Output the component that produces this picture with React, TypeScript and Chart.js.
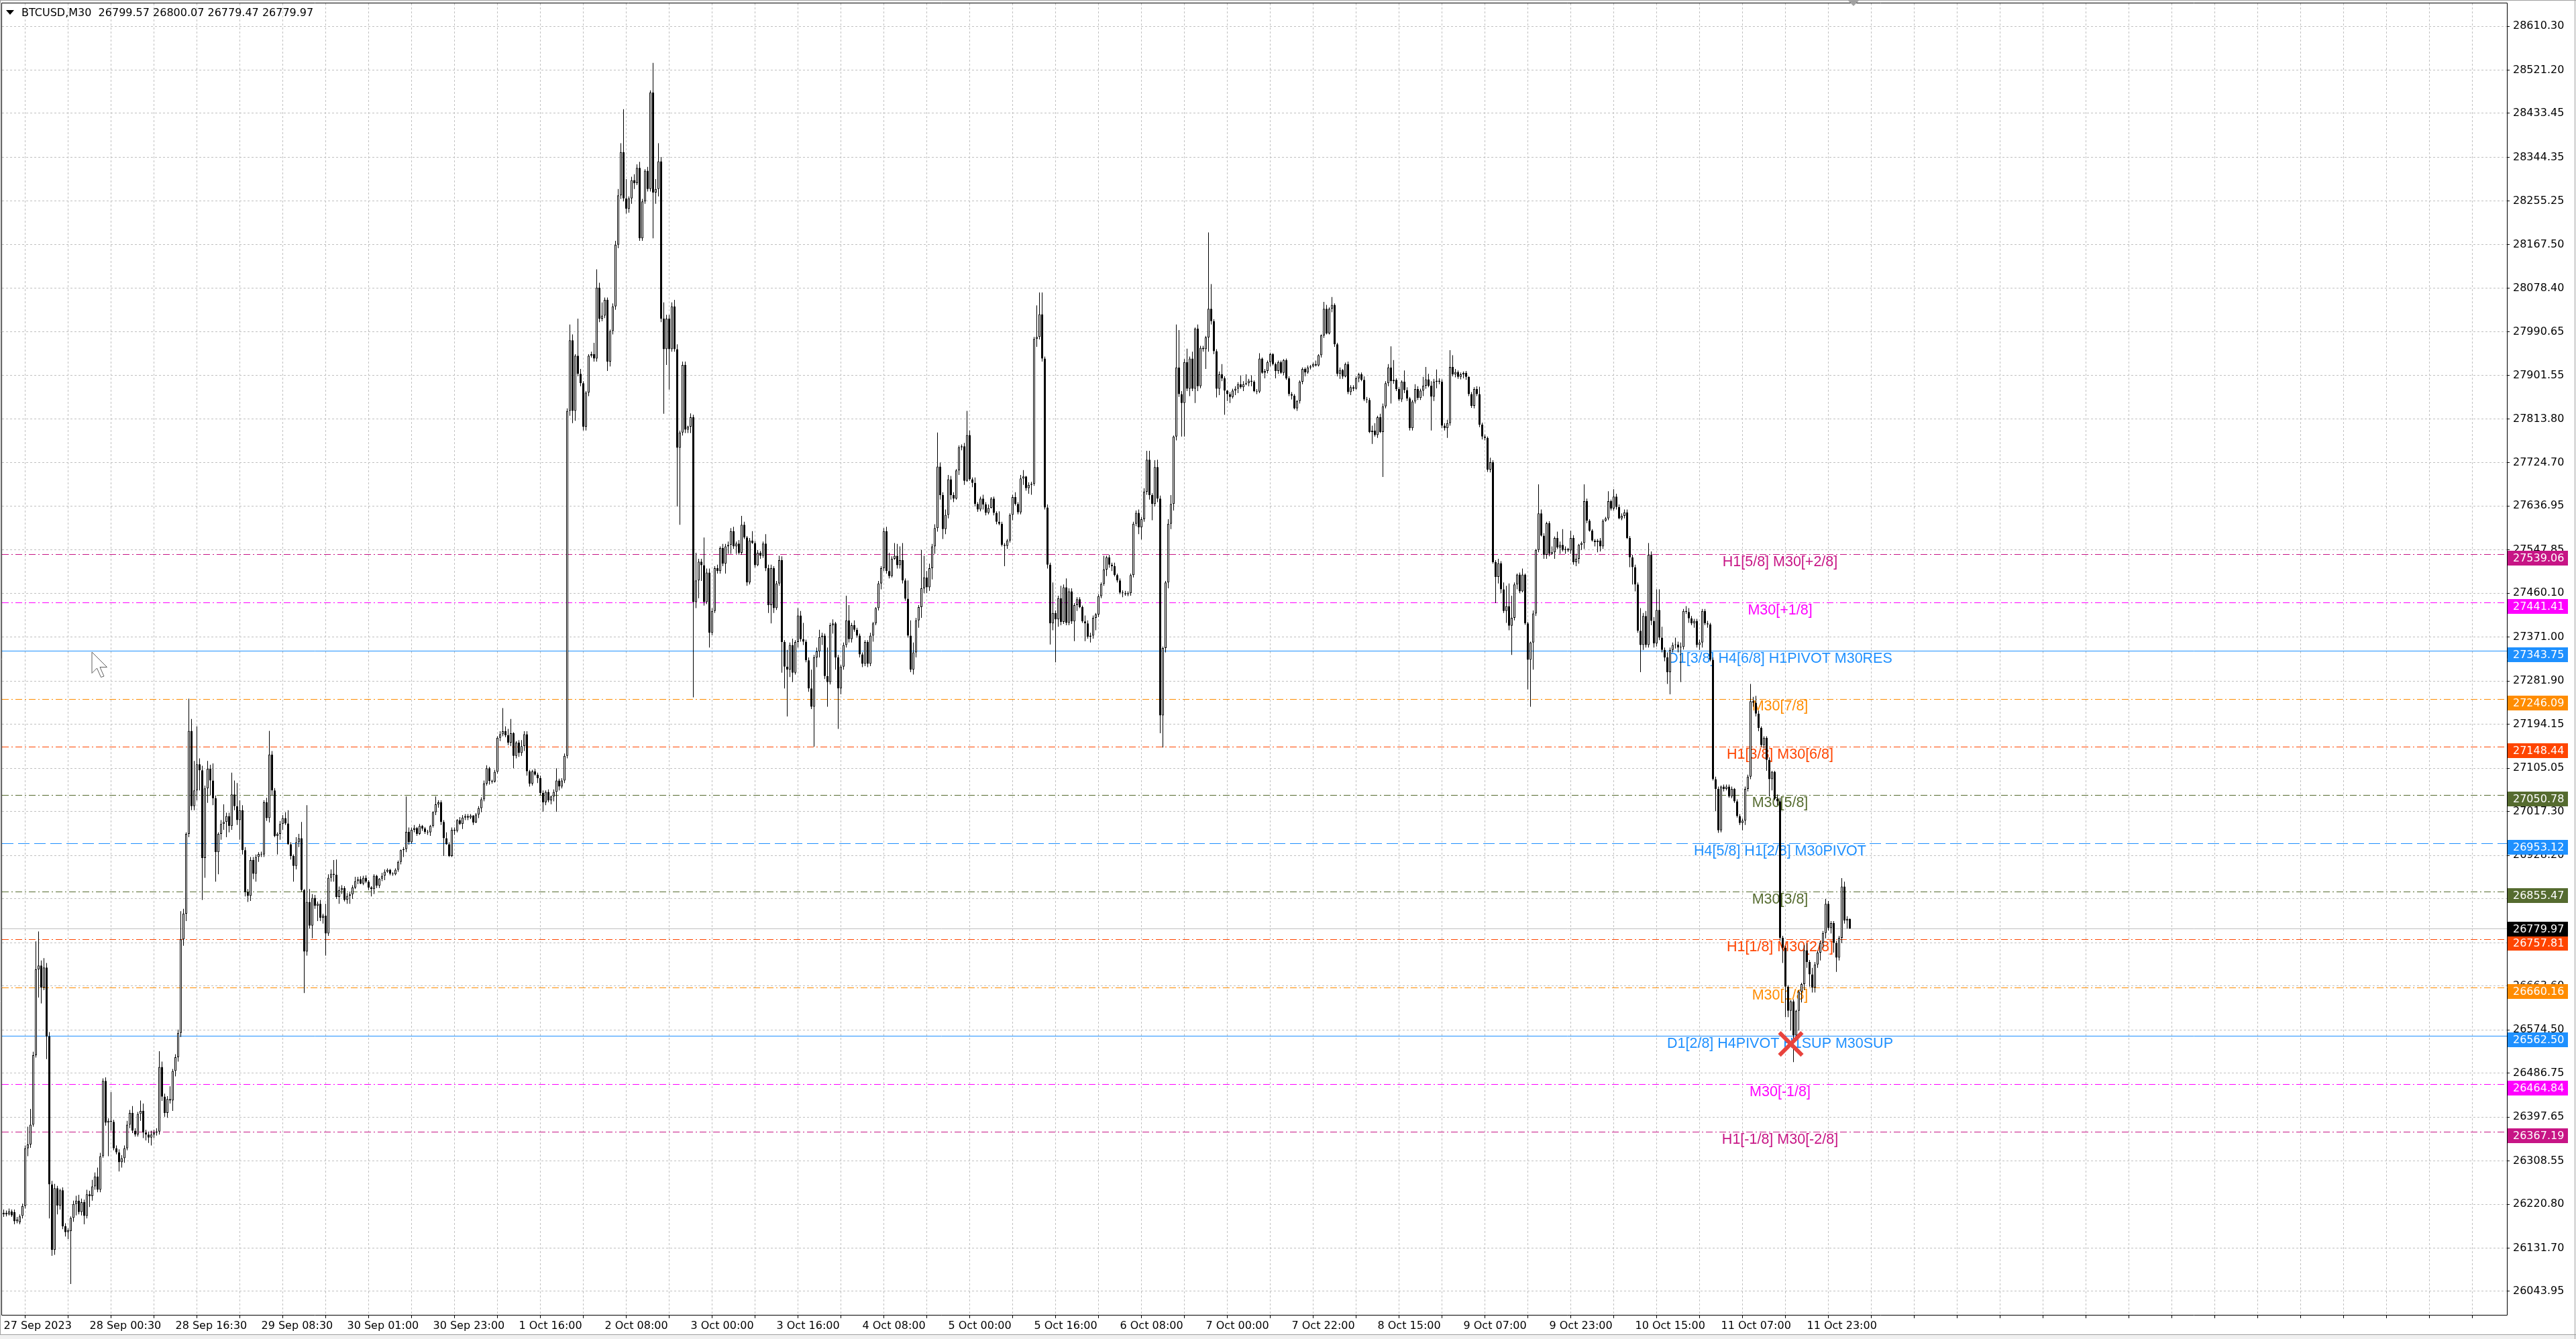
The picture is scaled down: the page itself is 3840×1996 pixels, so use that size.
import React, { useEffect, useRef } from "react";
import { Chart, registerables } from "chart.js";

Chart.register(...registerables);

// ---------------- DATA ----------------
const symbolName = "BTCUSD,M30";

// x-axis time labels, one every 32 bars (M30)
const timeLabels = [
  "27 Sep 2023", "28 Sep 00:30", "28 Sep 16:30", "29 Sep 08:30", "30 Sep 01:00", "30 Sep 23:00",
  "1 Oct 16:00", "2 Oct 08:00", "3 Oct 00:00", "3 Oct 16:00", "4 Oct 08:00", "5 Oct 00:00",
  "5 Oct 16:00", "6 Oct 08:00", "7 Oct 00:00", "7 Oct 22:00", "8 Oct 15:00", "9 Oct 07:00",
  "9 Oct 23:00", "10 Oct 15:00", "11 Oct 07:00", "11 Oct 23:00",
];

// right-axis price ticks
const priceTicks = [
  28610.30, 28521.20, 28433.45, 28344.35, 28255.25, 28167.50, 28078.40, 27990.65, 27901.55, 27813.80,
  27724.70, 27636.95, 27547.85, 27460.10, 27371.00, 27281.90, 27194.15, 27105.05, 27017.30, 26928.20,
  26840.45, 26751.35, 26663.60, 26574.50, 26486.75, 26397.65, 26308.55, 26220.80, 26131.70, 26043.95,
];

// Murrey-math style levels
const levelPrices = [
  27539.06, 27441.41, 27343.75, 27246.09, 27148.44, 27050.78, 26953.12,
  26855.47, 26757.81, 26660.16, 26562.50, 26464.84, 26367.19,
];
const levelNames = [
  "H1[5/8] M30[+2/8]", "M30[+1/8]", "D1[3/8] H4[6/8] H1PIVOT M30RES", "M30[7/8]",
  "H1[3/8] M30[6/8]", "M30[5/8]", "H4[5/8] H1[2/8] M30PIVOT", "M30[3/8]",
  "H1[1/8] M30[2/8]", "M30[1/8]", "D1[2/8] H4PIVOT H1SUP M30SUP", "M30[-1/8]", "H1[-1/8] M30[-2/8]",
];

// marker (red cross)
const markerBar = 666;
const markerPrice = 26546;
// bar index where the level captions are anchored
const captionBar = 662;

// OHLC candles [open, high, low, close]
const barsFrom27Sep = [
  [26200,26210,26195,26203],[26203,26208,26196,26200],[26200,26212,26198,26206],[26206,26210,26195,26198],[26205,26210,26180,26186],
  [26186,26195,26182,26190],[26184,26200,26180,26196],[26197,26222,26192,26217],[26217,26340,26212,26334],[26334,26378,26318,26342],
  [26342,26414,26335,26382],[26382,26530,26378,26523],[26523,26754,26518,26697],[26697,26774,26640,26705],[26705,26715,26628,26660],
  [26660,26720,26655,26701],[26701,26710,26515,26561],[26561,26570,26192,26261],[26261,26268,26116,26128],[26128,26262,26118,26253],
  [26253,26258,26200,26218],[26218,26252,26210,26249],[26249,26255,26170,26176],[26176,26182,26155,26164],[26164,26172,26150,26168],
  [26166,26196,26059,26193],[26193,26228,26185,26221],[26221,26238,26198,26228],[26228,26240,26200,26205],[26205,26232,26198,26225],
  [26225,26230,26180,26197],[26197,26250,26192,26241],[26241,26248,26215,26237],[26237,26270,26228,26257],[26257,26285,26250,26277],
  [26277,26295,26245,26250],[26250,26325,26245,26318],[26318,26476,26315,26471],[26471,26478,26380,26386],[26386,26395,26318,26390],
  [26390,26448,26370,26388],[26388,26392,26330,26334],[26334,26340,26322,26326],[26326,26332,26287,26306],[26306,26320,26295,26314],
  [26314,26340,26305,26334],[26334,26390,26330,26382],[26382,26412,26375,26406],[26406,26420,26365,26370],[26370,26375,26358,26362],
  [26362,26408,26358,26404],[26404,26431,26390,26410],[26410,26425,26355,26366],[26366,26372,26350,26362],[26362,26368,26345,26356],
  [26356,26370,26340,26362],[26362,26372,26355,26366],[26366,26375,26360,26368],[26368,26531,26362,26499],[26499,26510,26430,26439],
  [26439,26445,26398,26406],[26406,26440,26396,26434],[26434,26460,26425,26431],[26431,26495,26410,26491],[26491,26525,26480,26519],
  [26519,26575,26510,26568],[26568,26815,26560,26758],[26758,26820,26745,26810],[26810,26975,26795,26972],[26972,27246,26965,27181],
  [27181,27205,27020,27028],[27028,27120,27020,27060],[27060,27190,27040,27113],[27113,27125,27060,27101],[27101,27110,26838,26923],
  [26923,27070,26883,27064],[27064,27120,27035,27104],[27104,27112,27050,27080],[27080,27115,27030,27044],[27044,27050,26875,26935],
  [26935,26975,26890,26972],[26972,27000,26960,26992],[26992,27032,26980,26996],[26996,27015,26965,27008],[27008,27015,26975,26988],
  [26988,27096,26980,27052],[27052,27080,27020,27028],[27028,27075,26990,27000],[27000,27040,26960,27020],[27020,27030,26930,26939],
  [26939,26945,26845,26854],[26854,26860,26834,26846],[26846,26925,26836,26919],[26919,26925,26880,26891],[26891,26930,26875,26925],
  [26925,26935,26915,26931],[26931,26936,26925,26930],[26930,27040,26925,27036],[27036,27045,26998,27004],[27004,27181,26995,27133],
];
const barsFrom29Sep = [
  [27133,27140,27050,27060],[27060,27065,26965,26968],[26968,26975,26930,26972],[26972,26998,26960,26992],[26992,27010,26980,27004],
  [27004,27016,26990,26993],[26993,27020,26950,26951],[26951,26955,26920,26927],[26927,26930,26875,26907],[26907,26965,26900,26955],
  [26955,26972,26945,26963],[26963,26996,26855,26858],[26858,26860,26649,26733],[26733,27030,26725,26834],[26834,26860,26780,26786],
  [26786,26850,26760,26842],[26842,26848,26820,26826],[26826,26835,26795,26830],[26830,26838,26795,26802],[26802,26810,26790,26806],
  [26806,26830,26725,26770],[26770,26890,26765,26883],[26883,26900,26875,26891],[26891,26919,26875,26889],[26889,26920,26840,26844],
  [26844,26865,26830,26858],[26858,26868,26850,26862],[26862,26866,26835,26838],[26838,26852,26830,26846],[26846,26855,26830,26849],
  [26849,26868,26840,26863],[26863,26885,26860,26876],[26876,26885,26870,26880],[26880,26886,26870,26871],[26871,26887,26868,26883],
  [26883,26888,26872,26875],[26875,26878,26858,26863],[26863,26866,26845,26860],[26860,26890,26850,26887],[26887,26889,26862,26867],
  [26867,26882,26862,26881],[26881,26893,26876,26887],[26887,26900,26878,26895],[26895,26902,26893,26899],[26899,26901,26888,26891],
  [26891,26894,26887,26890],[26890,26902,26888,26899],[26899,26918,26895,26915],[26915,26940,26910,26939],[26939,26945,26925,26941],
  [26941,27048,26935,26976],[26976,26985,26950,26955],[26955,26985,26952,26980],[26980,26990,26975,26984],[26984,26986,26968,26972],
  [26972,26992,26970,26988],[26988,26990,26978,26983],[26983,26986,26972,26976],[26976,26980,26970,26975],[26975,26990,26968,26988],
  [26988,27018,26985,27016],[27016,27048,27010,27032],[27032,27040,27025,27036],[27036,27040,26990,26996],[26996,27000,26927,26963],
  [26963,26975,26950,26951],[26951,26955,26925,26927],[26927,26985,26925,26980],[26980,26985,26970,26978],[26978,27002,26975,27000],
  [27000,27006,26990,26992],[26992,27010,26982,27005],[27005,27012,27000,27008],[27008,27012,27000,27005],[27005,27012,27002,27009],
  [27009,27010,26990,26995],[26995,27014,26994,27011],[27011,27028,27004,27024],[27024,27046,27016,27042],[27042,27080,27038,27074],
  [27074,27111,27070,27105],[27105,27108,27072,27079],[27079,27082,27074,27078],[27078,27102,27076,27098],[27098,27170,27094,27167],
  [27167,27180,27160,27174],[27174,27227,27170,27180],[27180,27190,27168,27172],[27172,27185,27152,27157],[27157,27205,27150,27176],
  [27176,27178,27105,27130],[27130,27160,27125,27157],[27157,27162,27128,27136],[27136,27162,27130,27150],[27150,27180,27140,27174],
  [27174,27180,27090,27099],[27099,27102,27068,27074],[27074,27102,27070,27099],[27099,27104,27090,27092],[27092,27096,27075,27085],
];
const barsFrom01Oct = [
  [27085,27090,27050,27055],[27055,27060,27017,27036],[27036,27060,27030,27057],[27057,27062,27036,27040],[27040,27050,27032,27048],
  [27048,27062,27038,27057],[27057,27105,27017,27080],[27080,27084,27060,27068],[27068,27085,27064,27080],[27080,27135,27075,27130],
  [27130,27835,27125,27830],[27830,28005,27820,27973],[27973,27985,27805,27830],[27830,27945,27810,27942],[27942,28017,27900,27905],
  [27905,27915,27880,27886],[27886,27890,27790,27798],[27798,27870,27790,27867],[27867,27945,27860,27942],[27942,27950,27938,27945],
  [27945,27968,27930,27936],[27936,28117,27930,28080],[28080,28090,28010,28017],[28017,28050,28012,28023],[28023,28060,28018,28055],
  [28055,28060,27911,27930],[27930,27995,27920,27992],[27992,28048,27985,28042],[28042,28175,28035,28167],[28167,28280,28160,28267],
  [28267,28373,28260,28355],[28355,28442,28255,28261],[28261,28300,28230,28240],[28240,28265,28232,28261],[28261,28305,28250,28298],
  [28298,28310,28280,28292],[28292,28330,28288,28323],[28323,28335,28175,28180],[28180,28260,28175,28255],[28255,28320,28250,28317],
  [28317,28325,28275,28280],[28280,28480,28275,28476],[28476,28536,28180,28273],[28273,28300,28250,28280],[28280,28373,28265,28336],
  [28336,28345,28010,28017],[28017,28050,27824,27955],[27955,28025,27923,28017],[28017,28025,27873,27955],[27955,28050,27950,28042],
  [28042,28055,27950,27955],[27955,27965,27636,27755],[27755,27790,27599,27786],[27786,27930,27780,27923],[27923,27930,27785,27792],
  [27792,27800,27785,27798],[27798,27825,27785,27817],[27817,27822,27249,27442],[27442,27542,27430,27486],[27486,27530,27450,27524],
  [27524,27530,27485,27517],[27517,27573,27435,27442],[27442,27510,27438,27502],[27502,27510,27350,27380],[27380,27430,27375,27424],
  [27424,27515,27420,27511],[27511,27518,27500,27505],[27505,27555,27500,27552],[27552,27560,27515,27520],[27520,27560,27500,27555],
  [27555,27565,27540,27558],[27558,27592,27540,27586],[27586,27595,27550,27555],[27555,27565,27540,27561],[27561,27568,27538,27542],
  [27542,27617,27538,27599],[27599,27605,27570,27573],[27573,27576,27475,27482],[27482,27572,27478,27567],[27567,27586,27560,27562],
  [27562,27566,27512,27517],[27517,27548,27515,27542],[27542,27546,27530,27536],[27536,27565,27532,27561],[27561,27580,27505,27511],
  [27511,27518,27420,27436],[27436,27518,27399,27511],[27511,27515,27420,27430],[27430,27485,27426,27480],[27480,27536,27475,27527],
  [27527,27535,27299,27361],[27361,27365,27267,27311],[27311,27345,27210,27305],[27305,27360,27290,27355],[27355,27368,27280,27299],
  [27299,27365,27295,27361],[27361,27430,27350,27415],[27415,27424,27362,27367],[27367,27400,27355,27362],[27362,27366,27320,27324],
];
const barsFrom03Oct = [
  [27324,27330,27260,27267],[27267,27305,27225,27230],[27230,27335,27149,27330],[27330,27350,27310,27342],[27342,27386,27330,27371],
  [27371,27380,27355,27374],[27374,27378,27286,27292],[27292,27350,27230,27280],[27280,27400,27275,27395],[27395,27407,27378,27399],
  [27399,27402,27305,27330],[27330,27335,27185,27267],[27267,27315,27255,27311],[27311,27360,27305,27355],[27355,27455,27350,27405],
  [27405,27436,27360,27367],[27367,27400,27360,27395],[27395,27405,27382,27386],[27386,27390,27370,27374],[27374,27378,27330,27336],
  [27336,27340,27310,27317],[27317,27365,27312,27361],[27361,27365,27310,27317],[27317,27380,27312,27374],[27374,27402,27362,27399],
  [27399,27432,27395,27430],[27430,27485,27425,27480],[27480,27515,27468,27511],[27511,27592,27505,27586],[27586,27595,27500,27505],
  [27505,27542,27490,27495],[27495,27535,27492,27530],[27530,27562,27528,27536],[27536,27560,27510,27517],[27517,27555,27510,27527],
  [27527,27562,27480,27486],[27486,27490,27445,27449],[27449,27486,27370,27374],[27374,27405,27300,27305],[27305,27360,27295,27340],
  [27340,27410,27330,27405],[27405,27436,27390,27432],[27432,27548,27410,27470],[27470,27536,27460,27492],[27492,27505,27460,27472],
  [27472,27520,27465,27511],[27511,27560,27488,27555],[27555,27600,27540,27592],[27592,27786,27585,27717],[27717,27725,27650,27659],
  [27659,27665,27570,27590],[27590,27630,27580,27619],[27619,27700,27612,27691],[27691,27698,27650,27659],[27659,27665,27645,27652],
  [27652,27712,27650,27709],[27709,27760,27700,27756],[27756,27762,27750,27758],[27758,27765,27680,27688],[27688,27830,27686,27781],
  [27781,27790,27688,27691],[27691,27695,27675,27684],[27684,27695,27636,27641],[27641,27645,27625,27630],[27630,27656,27626,27652],
  [27652,27660,27630,27640],[27640,27645,27618,27623],[27623,27640,27620,27633],[27633,27655,27632,27652],[27652,27656,27618,27623],
  [27623,27626,27600,27605],[27605,27626,27598,27601],[27601,27605,27555,27558],[27558,27562,27515,27556],[27556,27570,27550,27567],
  [27567,27622,27563,27619],[27619,27660,27608,27655],[27655,27665,27638,27641],[27641,27645,27620,27624],[27624,27700,27620,27693],
  [27693,27710,27680,27697],[27697,27698,27668,27673],[27673,27685,27662,27680],[27680,27686,27660,27682],[27682,27980,27678,27976],
  [27976,28044,27960,27980],[27980,28070,27975,28026],[28026,28070,27930,27936],[27936,27940,27630,27634],[27634,27640,27510,27518],
  [27518,27522,27356,27399],[27399,27482,27385,27420],[27420,27425,27320,27407],[27407,27455,27392,27450],[27450,27475,27395,27402],
  [27402,27478,27398,27472],[27472,27490,27395,27400],[27400,27470,27395,27464],[27464,27470,27398,27403],[27403,27440,27363,27436],
];
const barsFrom06Oct = [
  [27436,27452,27424,27448],[27448,27452,27430,27432],[27432,27435,27400,27403],[27403,27415,27363,27399],[27399,27405,27368,27372],
  [27372,27380,27360,27374],[27374,27415,27368,27410],[27410,27420,27385,27417],[27417,27458,27412,27454],[27454,27482,27450,27479],
  [27479,27536,27475,27508],[27508,27536,27495,27533],[27533,27538,27512,27518],[27518,27522,27505,27515],[27515,27522,27494,27497],
  [27497,27500,27482,27486],[27486,27490,27458,27461],[27461,27466,27452,27460],[27460,27465,27455,27458],[27458,27464,27454,27460],
  [27460,27500,27455,27497],[27497,27605,27492,27601],[27601,27628,27596,27623],[27623,27630,27580,27594],[27594,27615,27569,27610],
  [27610,27673,27605,27666],[27666,27749,27660,27731],[27731,27749,27650,27659],[27659,27663,27608,27641],[27641,27730,27636,27716],
  [27716,27731,27645,27652],[27652,27658,27176,27212],[27212,27352,27147,27349],[27349,27485,27340,27482],[27482,27610,27470,27601],
  [27601,27659,27590,27641],[27641,27780,27628,27778],[27778,28005,27770,27918],[27918,27994,27858,27864],[27864,27870,27778,27846],
  [27846,27935,27778,27929],[27929,27956,27870,27875],[27875,27940,27860,27936],[27936,27950,27870,27875],[27875,27999,27846,27997],
  [27997,28005,27870,27880],[27880,27962,27876,27958],[27958,27962,27950,27955],[27955,27982,27915,27979],[27979,28192,27950,28037],
  [28037,28087,28005,28012],[28012,28016,27945,27951],[27951,27955,27857,27875],[27875,27910,27862,27904],[27904,27925,27890,27896],
  [27896,27900,27822,27871],[27871,27872,27850,27864],[27864,27868,27846,27858],[27858,27875,27855,27871],[27871,27880,27862,27875],
  [27875,27888,27866,27884],[27884,27902,27875,27878],[27878,27890,27870,27884],[27884,27904,27882,27886],[27886,27895,27880,27891],
  [27891,27902,27880,27889],[27889,27892,27868,27870],[27870,27874,27864,27869],[27869,27947,27866,27936],[27936,27938,27905,27907],
  [27907,27915,27896,27911],[27911,27932,27906,27929],[27929,27948,27920,27945],[27945,27947,27922,27925],[27925,27928,27896,27911],
  [27911,27932,27905,27929],[27929,27932,27905,27907],[27907,27935,27902,27933],[27933,27936,27893,27896],[27896,27900,27860,27864],
  [27864,27868,27853,27861],[27861,27864,27833,27835],[27835,27852,27830,27850],[27850,27892,27845,27889],[27889,27918,27884,27915],
  [27915,27918,27900,27908],[27908,27922,27905,27918],[27918,27923,27914,27920],[27920,27928,27918,27925],[27925,27932,27920,27922],
  [27922,27945,27920,27943],[27943,27985,27938,27983],[27983,28051,27978,28037],[28037,28045,27985,27987],[27987,28040,27985,28037],
  [28037,28061,28030,28045],[28045,28048,27960,27965],[27965,27968,27900,27905],[27905,27918,27895,27913],[27913,27915,27895,27900],
];
const barsFrom08Oct = [
  [27900,27928,27898,27925],[27925,27930,27864,27868],[27868,27882,27862,27878],[27878,27882,27870,27875],[27875,27900,27873,27896],
  [27896,27907,27888,27904],[27904,27908,27890,27893],[27893,27900,27850,27853],[27853,27858,27846,27852],[27852,27856,27785,27787],
  [27787,27800,27763,27790],[27790,27805,27778,27781],[27781,27820,27775,27817],[27817,27824,27785,27787],[27787,27845,27696,27839],
  [27839,27890,27835,27886],[27886,27925,27880,27918],[27918,27961,27845,27890],[27890,27933,27885,27893],[27893,27896,27870,27874],
  [27874,27878,27850,27853],[27853,27892,27848,27889],[27889,27912,27866,27872],[27872,27878,27850,27855],[27855,27858,27790,27795],
  [27795,27852,27790,27849],[27849,27884,27845,27874],[27874,27880,27852,27856],[27856,27875,27852,27871],[27871,27899,27860,27881],
  [27881,27919,27875,27894],[27894,27905,27878,27881],[27881,27890,27790,27859],[27859,27895,27850,27889],[27889,27914,27876,27891],
  [27891,27896,27884,27889],[27889,27894,27795,27800],[27800,27805,27790,27795],[27795,27812,27775,27805],[27805,27953,27800,27919],
  [27919,27943,27900,27904],[27904,27915,27898,27909],[27909,27912,27895,27899],[27899,27908,27894,27904],[27904,27910,27896,27907],
  [27907,27911,27893,27899],[27899,27900,27860,27864],[27864,27868,27836,27840],[27840,27878,27835,27874],[27874,27880,27860,27864],
  [27864,27879,27797,27802],[27802,27806,27772,27778],[27778,27782,27770,27775],[27775,27778,27706,27711],[27711,27735,27705,27726],
  [27726,27730,27520,27523],[27523,27527,27440,27493],[27493,27530,27480,27521],[27521,27525,27460,27468],[27468,27482,27420,27424],
  [27424,27475,27400,27434],[27434,27480,27385,27394],[27394,27455,27335,27410],[27410,27482,27405,27478],[27478,27500,27468,27498],
  [27498,27502,27460,27464],[27464,27510,27462,27498],[27498,27500,27396,27399],[27399,27402,27265,27325],[27325,27362,27230,27360],
  [27360,27425,27305,27419],[27419,27550,27414,27548],[27548,27681,27543,27622],[27622,27630,27575,27577],[27577,27582,27530,27538],
  [27538,27605,27530,27602],[27602,27606,27535,27540],[27540,27555,27538,27543],[27543,27575,27530,27572],[27572,27585,27550,27553],
  [27553,27565,27540,27558],[27558,27590,27545,27548],[27548,27555,27540,27550],[27550,27552,27544,27547],[27547,27587,27540,27572],
  [27572,27578,27518,27523],[27523,27540,27515,27530],[27530,27560,27520,27558],[27558,27565,27548,27562],[27562,27681,27550,27647],
  [27647,27652,27602,27607],[27607,27610,27585,27587],[27587,27590,27565,27567],[27567,27570,27555,27564],[27564,27570,27543,27567],
  [27567,27572,27545,27555],[27555,27610,27550,27607],[27607,27615,27605,27612],[27612,27667,27608,27647],[27647,27650,27628,27632],
];
const barsFrom10Oct = [
  [27632,27671,27628,27656],[27656,27662,27630,27635],[27635,27640,27610,27612],[27612,27622,27608,27617],[27617,27630,27612,27624],
  [27624,27630,27570,27572],[27572,27576,27513,27533],[27533,27538,27478,27513],[27513,27518,27464,27478],[27478,27482,27380,27384],
  [27384,27430,27300,27355],[27355,27420,27345,27414],[27414,27424,27350,27355],[27355,27562,27350,27538],[27538,27545,27395,27404],
  [27404,27412,27350,27358],[27358,27468,27352,27426],[27426,27468,27365,27370],[27370,27392,27340,27345],[27345,27350,27322,27330],
  [27330,27340,27276,27300],[27300,27350,27255,27345],[27345,27360,27340,27355],[27355,27370,27348,27356],[27356,27362,27340,27350],
  [27350,27360,27280,27351],[27351,27428,27346,27424],[27424,27434,27418,27422],[27422,27430,27400,27409],[27409,27414,27395,27399],
  [27399,27408,27390,27404],[27404,27408,27350,27355],[27355,27366,27345,27360],[27360,27428,27350,27424],[27424,27428,27395,27399],
  [27399,27404,27390,27397],[27397,27400,27322,27325],[27325,27330,27080,27083],[27083,27088,27018,27063],[27063,27068,26974,26979],
  [26979,27070,26975,27068],[27068,27072,27058,27063],[27063,27072,27060,27068],[27068,27072,27045,27048],[27048,27068,27044,27063],
  [27063,27065,27035,27038],[27038,27042,27005,27008],[27008,27012,26990,26994],[26994,27003,26979,26999],[26999,27068,26990,27063],
  [27063,27092,27058,27088],[27088,27276,27083,27241],[27241,27250,27230,27238],[27238,27252,27210,27216],[27216,27222,27180,27187],
  [27187,27190,27148,27152],[27152,27170,27145,27167],[27167,27170,27100,27122],[27122,27127,27048,27083],[27083,27100,27060,27098],
  [27098,27100,27040,27043],[27043,27052,27030,27038],[27038,27045,26755,26761],[26761,26765,26710,26741],[26741,26745,26600,26662],
  [26662,26665,26600,26613],[26613,26635,26573,26632],[26632,26636,26509,26563],[26563,26615,26555,26613],[26613,26655,26573,26652],
  [26652,26670,26630,26667],[26667,26746,26655,26736],[26736,26750,26700,26712],[26712,26716,26662,26687],[26687,26700,26650,26660],
  [26660,26712,26650,26707],[26707,26735,26700,26731],[26731,26755,26715,26751],[26751,26775,26740,26771],[26771,26840,26760,26830],
  [26830,26836,26776,26781],[26781,26795,26770,26791],[26791,26795,26731,26751],[26751,26755,26692,26721],[26721,26765,26715,26761],
  [26761,26882,26750,26865],[26865,26875,26790,26796],[26796,26805,26780,26799.57],[26799.57,26800.07,26779.47,26779.97],
];

// ---------------- STYLE ----------------
const levelColors = [
  "#C71585", "#FF00FF", "#1E90FF", "#FF8C00", "#FF4500", "#556B2F", "#1E90FF",
  "#556B2F", "#FF4500", "#FF8C00", "#1E90FF", "#FF00FF", "#C71585",
];
const levelStyles = [
  "dashdot", "dashdot", "solid", "dashdot", "dashdot", "dashdot", "dash",
  "dashdot", "dashdot", "dashdot", "solid", "dashdot", "dashdot",
];
const AXIS_FONT = '16px "DejaVu Sans"';
const CAPTION_FONT = '21.5px "Liberation Sans"';

function dashFor(style: string): number[] {
  if (style === "dashdot") return [10, 4, 2, 4];
  if (style === "dash") return [17, 7];
  return [];
}

function zeroPadding(s: any) {
  s.paddingLeft = 0;
  s.paddingRight = 0;
  s.paddingTop = 0;
  s.paddingBottom = 0;
}

export default function App() {
  const ref = useRef<HTMLCanvasElement | null>(null);

  useEffect(() => {
    document.body.style.margin = "0";
    document.body.style.background = "#FFFFFF";
    const candles = [
      ...barsFrom27Sep, ...barsFrom29Sep, ...barsFrom01Oct, ...barsFrom03Oct,
      ...barsFrom06Oct, ...barsFrom08Oct, ...barsFrom10Oct,
    ];
    const last = candles[candles.length - 1];
    const lastClose = last[3];

    const wickData = candles.map((c, i) => ({
      x: i,
      y: [Math.min(c[2], c[0], c[3]), Math.max(c[1], c[0], c[3])],
    }));
    const bodyData = candles.map((c, i) => ({
      x: i,
      y: [Math.min(c[0], c[3]), Math.max(c[0], c[3])],
    }));
    const bodyFill = candles.map((c) => (c[3] >= c[0] ? "#FFFFFF" : "#000000"));

    const overlay = {
      id: "mtOverlay",
      beforeDatasetsDraw(chart: any) {
        const { ctx, chartArea: a, scales } = chart;
        const y = scales.y;
        const x = scales.x;
        ctx.save();
        ctx.beginPath();
        ctx.rect(a.left, a.top, a.right - a.left, a.bottom - a.top);
        ctx.clip();
        ctx.lineWidth = 1;
        // bid line
        const yb = Math.round(y.getPixelForValue(lastClose)) + 0.5;
        ctx.strokeStyle = "#C0C0C0";
        ctx.setLineDash([]);
        ctx.beginPath();
        ctx.moveTo(a.left, yb);
        ctx.lineTo(a.right, yb);
        ctx.stroke();
        // levels
        levelPrices.forEach((p, k) => {
          const yy = Math.round(y.getPixelForValue(p)) + 0.5;
          ctx.strokeStyle = levelColors[k];
          ctx.setLineDash(dashFor(levelStyles[k]));
          ctx.beginPath();
          ctx.moveTo(a.left, yy);
          ctx.lineTo(a.right, yy);
          ctx.stroke();
        });
        ctx.setLineDash([]);
        // captions
        ctx.font = CAPTION_FONT;
        ctx.textAlign = "center";
        ctx.textBaseline = "middle";
        const cx = x.getPixelForValue(captionBar);
        levelPrices.forEach((p, k) => {
          const yy = y.getPixelForValue(p);
          ctx.fillStyle = levelColors[k];
          ctx.fillText(levelNames[k], cx, yy + 12);
        });
        ctx.restore();
      },
      afterDraw(chart: any) {
        const { ctx, chartArea: a, scales, width, height } = chart;
        const y = scales.y;
        ctx.save();
        ctx.setLineDash([]);
        // outer window border
        ctx.fillStyle = "#F0F0F0";
        ctx.fillRect(0, height - 6, width, 6);
        ctx.strokeStyle = "#A0A0A0";
        ctx.lineWidth = 1;
        ctx.beginPath();
        ctx.moveTo(0, 0.5); ctx.lineTo(width, 0.5);
        ctx.moveTo(width - 1.5, 0); ctx.lineTo(width - 1.5, height);
        ctx.moveTo(0, height - 6.5); ctx.lineTo(width, height - 6.5);
        ctx.moveTo(0.5, 0); ctx.lineTo(0.5, height - 6);
        ctx.stroke();
        // plot frame
        ctx.strokeStyle = "#000000";
        ctx.beginPath();
        ctx.rect(a.left - 0.5, a.top - 0.5, a.right - a.left + 1, a.bottom - a.top + 1);
        ctx.stroke();
        // chart shift marker
        ctx.fillStyle = "#A0A0A0";
        ctx.beginPath();
        ctx.moveTo(2755, 1); ctx.lineTo(2771, 1); ctx.lineTo(2763, 9); ctx.closePath();
        ctx.fill();
        // price boxes on the axis
        ctx.font = AXIS_FONT;
        ctx.textAlign = "left";
        ctx.textBaseline = "middle";
        const boxes = levelPrices.map((p, k) => ({ p, color: levelColors[k], dy: 6 }));
        boxes.push({ p: lastClose, color: "#000000", dy: 1 });
        boxes.forEach((b) => {
          const cy = y.getPixelForValue(b.p) + b.dy;
          const top = Math.round(cy - 11);
          ctx.fillStyle = b.color;
          ctx.fillRect(a.right + 1, top, 90, 22);
          ctx.fillStyle = "#FFFFFF";
          ctx.fillText(b.p.toFixed(2), a.right + 9, top + 12);
        });
        // header
        ctx.fillStyle = "#000000";
        ctx.beginPath();
        ctx.moveTo(9, 15); ctx.lineTo(21, 15); ctx.lineTo(15, 22); ctx.closePath();
        ctx.fill();
        const hdr = `${symbolName}  ${last[0].toFixed(2)} ${last[1].toFixed(2)} ${last[2].toFixed(2)} ${last[3].toFixed(2)}`;
        ctx.fillText(hdr, 32, 20);
        // mouse pointer
        const px = 137, py = 972, s = 1.5;
        const pts = [[0, 0], [0, 21], [5, 16], [9, 25], [12, 24], [8, 15], [15, 15]];
        ctx.beginPath();
        pts.forEach((pt, i) => {
          const X = px + pt[0] * s, Y = py + pt[1] * s;
          if (i === 0) ctx.moveTo(X, Y); else ctx.lineTo(X, Y);
        });
        ctx.closePath();
        ctx.fillStyle = "#FFFFFF";
        ctx.fill();
        ctx.strokeStyle = "#606060";
        ctx.stroke();
        ctx.restore();
      },
    };

    Chart.defaults.font.family = '"DejaVu Sans"';
    Chart.defaults.font.size = 16;
    Chart.defaults.color = "#000000";

    const chart = new Chart(ref.current as HTMLCanvasElement, {
      type: "bar",
      data: {
        datasets: [
          {
            type: "line",
            label: "marker",
            data: [{ x: markerBar, y: markerPrice }],
            showLine: false,
            pointStyle: "crossRot",
            pointRadius: 24,
            pointBorderWidth: 6,
            pointBorderColor: "#E8433D",
            pointBackgroundColor: "rgba(0,0,0,0)",
            order: 0,
          } as any,
          {
            type: "bar",
            label: "body",
            data: bodyData as any,
            backgroundColor: bodyFill,
            borderColor: "#000000",
            borderWidth: 1,
            borderSkipped: false,
            barThickness: 3,
            grouped: false,
            minBarLength: 1,
            inflateAmount: 0,
            order: 1,
          } as any,
          {
            type: "bar",
            label: "wick",
            data: wickData as any,
            backgroundColor: "#000000",
            borderWidth: 0,
            barThickness: 1,
            grouped: false,
            inflateAmount: 0,
            order: 2,
          } as any,
        ],
      },
      options: {
        responsive: false,
        animation: false,
        events: [],
        layout: { autoPadding: false, padding: { left: 3, top: 5, right: 0, bottom: 0 } },
        plugins: { legend: { display: false }, tooltip: { enabled: false } },
        scales: {
          x: {
            type: "linear",
            min: -0.625,
            max: 932.875,
            offset: false,
            afterBuildTicks: (s: any) => {
              const t = [];
              for (let v = 0; v <= s.max; v += 16) t.push({ value: v });
              s.ticks = t;
            },
            afterFit: (s: any) => { s.height = 36; zeroPadding(s); },
            ticks: {
              autoSkip: false,
              maxRotation: 0,
              minRotation: 0,
              align: "start",
              padding: 2,
              color: "#000000",
              font: { size: 16 },
              callback: (v: any) => {
                const k = Number(v) / 32;
                return Number.isInteger(k) && k < timeLabels.length ? timeLabels[k] : "";
              },
            },
            grid: {
              color: (c: any) => (c.tick && c.tick.value === 0 ? "rgba(0,0,0,0)" : "#C0C0C0"),
              lineWidth: 1,
              tickLength: 5,
              tickColor: "#000000",
            },
            border: { display: false, dash: [3, 3] },
          } as any,
          y: {
            type: "linear",
            position: "right",
            min: 25996.3,
            max: 28656.6,
            afterBuildTicks: (s: any) => { s.ticks = priceTicks.map((v) => ({ value: v })); },
            afterFit: (s: any) => { s.width = 103; zeroPadding(s); },
            ticks: {
              autoSkip: false,
              padding: 5,
              color: "#000000",
              font: { size: 16 },
              callback: (v: any) => Number(v).toFixed(2),
            },
            grid: { color: "#C0C0C0", lineWidth: 1, tickLength: 4, tickColor: "#000000" },
            border: { display: false, dash: [3, 3] },
          } as any,
        },
      },
      plugins: [overlay],
    } as any);

    return () => chart.destroy();
  }, []);

  return (
    <canvas
      ref={ref}
      width={3840}
      height={1996}
      style={{ display: "block", width: "3840px", height: "1996px" }}
    />
  );
}
